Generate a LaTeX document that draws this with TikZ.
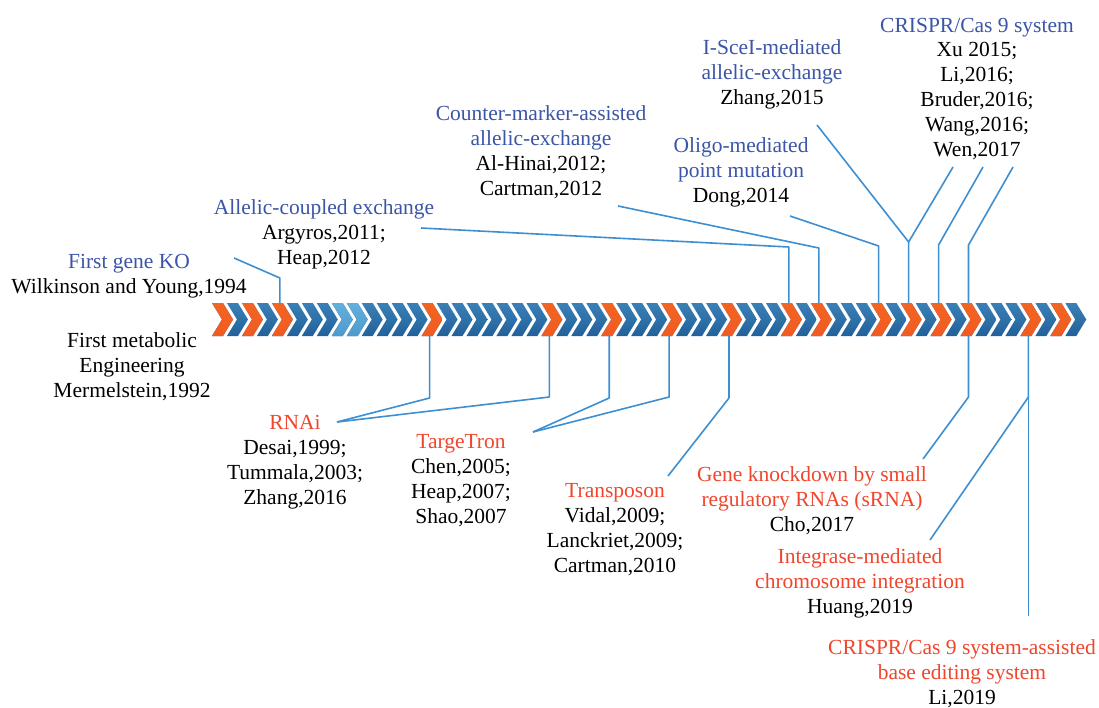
\documentclass[tikz,border=0pt]{standalone}
\usepackage{fontspec}
\setmainfont{Liberation Serif}
\definecolor{tblue}{HTML}{3B55A8}
\definecolor{tred}{HTML}{F0462D}
\definecolor{lnblue}{HTML}{3D8FD1}
\definecolor{cbtop}{HTML}{3A80B6}
\definecolor{cbmid}{HTML}{7CC4EA}
\definecolor{cbbot}{HTML}{22609A}
\definecolor{cotop}{HTML}{F26522}
\definecolor{comid}{HTML}{FBB040}
\definecolor{cobot}{HTML}{F15A22}
\definecolor{cltop}{HTML}{62B0DE}
\definecolor{clmid}{HTML}{98D6F2}
\definecolor{clbot}{HTML}{4E9ACC}
\begin{document}
\begin{tikzpicture}[x=1pt,y=-1pt,
  bluechev/.style={top color=cbtop, middle color=cbmid, bottom color=cbbot},
  orangechev/.style={top color=cotop, middle color=comid, bottom color=cobot},
  lightchev/.style={top color=cltop, middle color=clmid, bottom color=clbot},
  lbl/.style={align=center, inner sep=0pt, anchor=base, font=\fontsize{21.5}{24.8}\selectfont},
  conn/.style={draw=lnblue, line width=1.6pt, line join=round}]
\useasboundingbox (0,0) rectangle (1099,707);
\fill[white] (0,0) rectangle (1099,707);
% chevron band
\foreach \i in {0,...,57}
  \path[bluechev] ({220+14.97*\i-8},303) -- ++(11,0) -- ++(10,16.5) -- ++(-10,16.5) -- ++(-11,0) -- ++(10,-16.5) -- cycle;
\foreach \i in {8,9}
  \path[lightchev] ({220+14.97*\i-8},303) -- ++(11,0) -- ++(10,16.5) -- ++(-10,16.5) -- ++(-11,0) -- ++(10,-16.5) -- cycle;
\foreach \i in {0,2,4,14,22,26,30,34,38,40,44,46,48,50,54,56}{
  \path[orangechev] ({220+14.97*\i-8},303) -- ++(11,0) -- ++(10,16.5) -- ++(-10,16.5) -- ++(-11,0) -- ++(10,-16.5) -- cycle;
  \coordinate (t\i) at ({220+14.97*\i},303);
  \coordinate (b\i) at ({220+14.97*\i},336);
}
% labels above (anchor = baseline of last line)
\node[lbl] (crispr) at (977,156) {\textcolor{tblue}{CRISPR/Cas 9 system}\\Xu 2015;\\Li,2016;\\Bruder,2016;\\Wang,2016;\\Wen,2017};
\node[lbl] (isce) at (772,104) {\textcolor{tblue}{I-SceI-mediated}\\\textcolor{tblue}{allelic-exchange}\\Zhang,2015};
\node[lbl] (counter) at (541,195) {\textcolor{tblue}{Counter-marker-assisted}\\\textcolor{tblue}{allelic-exchange}\\Al-Hinai,2012;\\Cartman,2012};
\node[lbl] (oligo) at (741,202) {\textcolor{tblue}{Oligo-mediated}\\\textcolor{tblue}{point mutation}\\Dong,2014};
\node[lbl] (allelic) at (324,264) {\textcolor{tblue}{Allelic-coupled exchange}\\Argyros,2011;\\Heap,2012};
\node[lbl] (firstko) at (129,293) {\textcolor{tblue}{First gene KO}\\Wilkinson and Young,1994};
\node[lbl] (firstme) at (132,397) {First metabolic\\Engineering\\Mermelstein,1992};
% labels below
\node[lbl] (rnai) at (295,504) {\textcolor{tred}{RNAi}\\Desai,1999;\\Tummala,2003;\\Zhang,2016};
\node[lbl] (targe) at (461,523) {\textcolor{tred}{TargeTron}\\Chen,2005;\\Heap,2007;\\Shao,2007};
\node[lbl] (transp) at (615,572) {\textcolor{tred}{Transposon}\\Vidal,2009;\\Lanckriet,2009;\\Cartman,2010};
\node[lbl] (knock) at (812,531) {\textcolor{tred}{Gene knockdown by small}\\\textcolor{tred}{regulatory RNAs (sRNA)}\\Cho,2017};
\node[lbl] (integ) at (860,613) {\textcolor{tred}{Integrase-mediated}\\\textcolor{tred}{chromosome integration}\\Huang,2019};
\node[lbl] (base) at (962,704) {\textcolor{tred}{CRISPR/Cas 9 system-assisted}\\\textcolor{tred}{base editing system}\\Li,2019};
% connector ends and knees
\coordinate (eko) at (234,258);   \coordinate (kko) at (t4 |- 0,278);
\coordinate (eal) at (421,228);   \coordinate (kal) at (t38 |- 0,247);
\coordinate (eco) at (618,206);   \coordinate (kco) at (t40 |- 0,248);
\coordinate (eol) at (790,216);   \coordinate (kol) at (t44 |- 0,246);
\coordinate (eis) at (817,125);   \coordinate (kis) at (t46 |- 0,242);
\coordinate (ecr1) at (953,167);
\coordinate (ecr2) at (983,167);  \coordinate (kcr2) at (t48 |- 0,245);
\coordinate (ecr3) at (1013,167); \coordinate (kcr3) at (t50 |- 0,245);
\coordinate (ern) at (337,422);   \coordinate (krn1) at (b14 |- 0,398); \coordinate (krn2) at (b22 |- 0,397);
\coordinate (eta) at (533,432);   \coordinate (kta1) at (b26 |- 0,398); \coordinate (kta2) at (b30 |- 0,397);
\coordinate (etr) at (668,476);   \coordinate (ktr) at (b34 |- 0,398);
\coordinate (ekn) at (923,459);   \coordinate (kkn) at (b50 |- 0,397);
\coordinate (ein) at (930,540);   \coordinate (kin) at (b54 |- 0,397);
\coordinate (eba) at (b54 |- 0,616);
% connectors above
\draw[conn] (eko) -- (kko) -- (t4);
\draw[conn] (eal) -- (kal) -- (t38);
\draw[conn] (eco) -- (kco) -- (t40);
\draw[conn] (eol) -- (kol) -- (t44);
\draw[conn] (eis) -- (kis) -- (t46);
\draw[conn] (ecr1) -- (kis);
\draw[conn] (ecr2) -- (kcr2) -- (t48);
\draw[conn] (ecr3) -- (kcr3) -- (t50);
% connectors below
\draw[conn] (b14) -- (krn1) -- (ern);
\draw[conn] (b22) -- (krn2) -- (ern);
\draw[conn] (b26) -- (kta1) -- (eta);
\draw[conn] (b30) -- (kta2) -- (eta);
\draw[conn] (b34) -- (ktr) -- (etr);
\draw[conn] (b50) -- (kkn) -- (ekn);
\draw[conn] (b54) -- (kin) -- (ein);
\draw[conn] (kin) -- (eba);
\end{tikzpicture}
\end{document}
